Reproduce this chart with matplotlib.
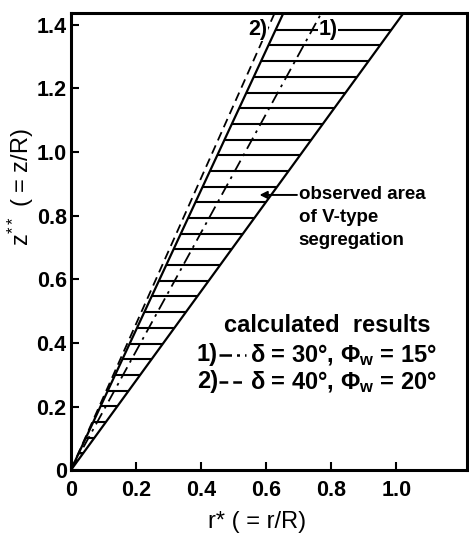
import numpy as np
import matplotlib
matplotlib.use("Agg")
import matplotlib.pyplot as plt

# boundary lines, r* at z** = 0 and at the top of the plot
z_ends = [0.0, 1.44]
r_obs_left = [0.0, 0.655]    # left edge of the observed area
r_obs_right = [0.0, 1.025]   # right edge of the observed area
r_calc1 = [0.0, 0.772]       # 1) delta=30, phi_w=15
r_calc2 = [0.0, 0.628]       # 2) delta=40, phi_w=20

x_ticks = [0, 0.2, 0.4, 0.6, 0.8, 1.0]
x_tick_labels = ["0", "0.2", "0.4", "0.6", "0.8", "1.0"]
y_ticks = [0, 0.2, 0.4, 0.6, 0.8, 1.0, 1.2, 1.4]
y_tick_labels = ["0", "0.2", "0.4", "0.6", "0.8", "1.0", "1.2", "1.4"]

plt.rcParams['font.family'] = ['Liberation Sans', 'DejaVu Sans']
plt.rcParams['font.weight'] = 'bold'
plt.rcParams['mathtext.default'] = 'regular'

fig = plt.figure(figsize=(4.69, 5.38), dpi=100)
ax = fig.add_axes([0.151, 0.126, 0.845, 0.85])

# hatched area: horizontal strokes between the two observed edges
sl = r_obs_left[1] / z_ends[1]
sr = r_obs_right[1] / z_ends[1]
for z in np.arange(1.384, 0.03, -0.0493):
    ax.plot([sl * z, sr * z], [z, z], color='black', lw=1.5, solid_capstyle='butt')

ax.plot(r_obs_left, z_ends, color='black', lw=1.6)
ax.plot(r_obs_right, z_ends, color='black', lw=1.6)
ax.plot(r_calc1, z_ends, color='black', lw=1.3, dashes=[7, 3, 1.5, 3])
ax.plot(r_calc2, z_ends, color='black', lw=1.3, dashes=[5, 3])

ax.text(0.575, 1.384, "2)", fontsize=15.5, ha='center', va='center',
        bbox=dict(facecolor='white', edgecolor='none', pad=0.5))
ax.text(0.79, 1.384, "1)", fontsize=15.5, ha='center', va='center',
        bbox=dict(facecolor='white', edgecolor='none', pad=0.5))

ax.annotate("", xy=(0.58, 0.865), xytext=(0.695, 0.865),
            arrowprops=dict(arrowstyle='-|>', color='black', lw=1.4, mutation_scale=11,
                            shrinkA=0, shrinkB=0))
ax.text(0.70, 0.893, "observed area\nof V-type\nsegregation", fontsize=13.5,
        ha='left', va='top', linespacing=1.45)

# legend block
fs = 17
ax.text(0.646, 0.317, "calculated  results", transform=ax.transAxes, fontsize=fs,
        ha='center', va='center')
ax.text(0.318, 0.252, "1)", transform=ax.transAxes, fontsize=fs, ha='left', va='center')
ax.plot([0.375, 0.442], [0.252, 0.252], transform=ax.transAxes, color='black', lw=1.8,
        dashes=[5, 2, 1.2, 2])
ax.text(0.452, 0.252, r"δ = 30°, Φ$_{w}$ = 15°", transform=ax.transAxes,
        fontsize=fs, ha='left', va='center')
ax.text(0.318, 0.193, "2)", transform=ax.transAxes, fontsize=fs, ha='left', va='center')
ax.plot([0.375, 0.442], [0.193, 0.193], transform=ax.transAxes, color='black', lw=1.8,
        dashes=[3.5, 2])
ax.text(0.452, 0.193, r"δ = 40°, Φ$_{w}$ = 20°", transform=ax.transAxes,
        fontsize=fs, ha='left', va='center')

ax.set_xlim(0, 1.218)
ax.set_ylim(0, 1.437)
ax.set_xticks(x_ticks)
ax.set_xticklabels(x_tick_labels)
ax.set_yticks(y_ticks)
ax.set_yticklabels(y_tick_labels)
ax.tick_params(direction='in', length=6, width=1.5, labelsize=15.5)
ax.tick_params(axis='y', pad=3)
ax.tick_params(axis='x', pad=7)
for s in ax.spines.values():
    s.set_linewidth(2.2)

ax.set_xlabel("r* ( = r/R)", fontsize=17, va='center')
ax.xaxis.set_label_coords(0.47, -0.114)
ax.set_ylabel(r"z$^{**}$ ( = z/R)", fontsize=17, va='center')
ax.yaxis.set_label_coords(-0.125, 0.62)

fig.savefig("out.png", dpi=100)
